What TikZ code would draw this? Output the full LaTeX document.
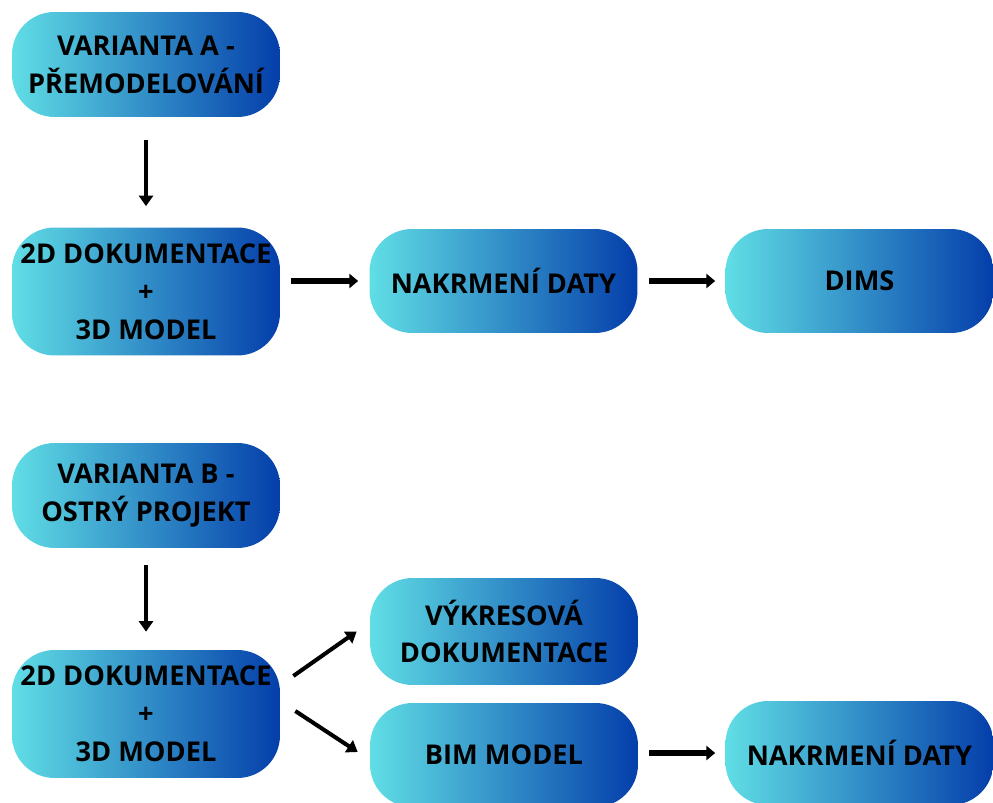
\documentclass[tikz,border=0pt]{standalone}
\usepackage{fontspec}
\setmainfont{Open Sans}
\usetikzlibrary{arrows.meta,calc}
\definecolor{cyanend}{RGB}{96,222,229}
\definecolor{blueend}{RGB}{4,62,170}
\begin{document}
\begin{tikzpicture}[x=0.02cm,y=-0.02cm,
box/.style={rounded corners=0.85cm,left color=cyanend,right color=blueend,minimum width=5.36cm,minimum height=2.1cm,
align=center,inner sep=0pt,font=\fontsize{15.5}{21.5}\selectfont\bfseries},
tall/.style={minimum height=2.56cm},
arr/.style={line width=2.3pt,-{Triangle[length=6pt,width=8pt]}},
thick arr/.style={line width=3.3pt,-{Triangle[length=5pt,width=8pt]}}]
\path[use as bounding box,clip](0,0)rectangle(993,803);
\node[box](a1)at(146,64.5){VARIANTA A -\\PŘEMODELOVÁNÍ};
\node[box,tall](a2)at(146,291.5){2D DOKUMENTACE\\+\\3D MODEL};
\node[box,minimum height=2.08cm](a3)at(503.5,281){NAKRMENÍ DATY};
\node[box,minimum height=2.08cm](a4)at(859.5,281){DIMS};
\node[box](b1)at(146,495.5){VARIANTA B -\\OSTRÝ PROJEKT};
\node[box,tall](b2)at(146,714){2D DOKUMENTACE\\+\\3D MODEL};
\node[box,minimum height=2.14cm](b3)at(504,631.5){VÝKRESOVÁ\\DOKUMENTACE};
\node[box,minimum height=2.08cm](b4)at(504,755){BIM MODEL};
\node[box,minimum height=2.08cm](b5)at(859.5,753){NAKRMENÍ DATY};
% sipky
\draw[arr]($(a1.south)+(0,23)$)--($(a2.north)+(0,-21)$);
\draw[arr]($(b1.south)+(0,17)$)--($(b2.north)+(0,-18)$);
\draw[thick arr]($(a2.east|-a3.west)+(11,0)$)--($(a3.west)+(-11,0)$);
\draw[thick arr]($(a3.east)+(11,0)$)--($(a4.west)+(-10,0)$);
\draw[thick arr]($(b4.east|-b5.west)+(11,0)$)--($(b5.west)+(-10,0)$);
\draw[arr]($(b2.east)+(13,-38)$)--($(b3.west)+(-13,0)$);
\draw[arr]($(b2.east)+(15,-3)$)--($(b4.west)+(-12,-3)$);
\end{tikzpicture}
\end{document}
